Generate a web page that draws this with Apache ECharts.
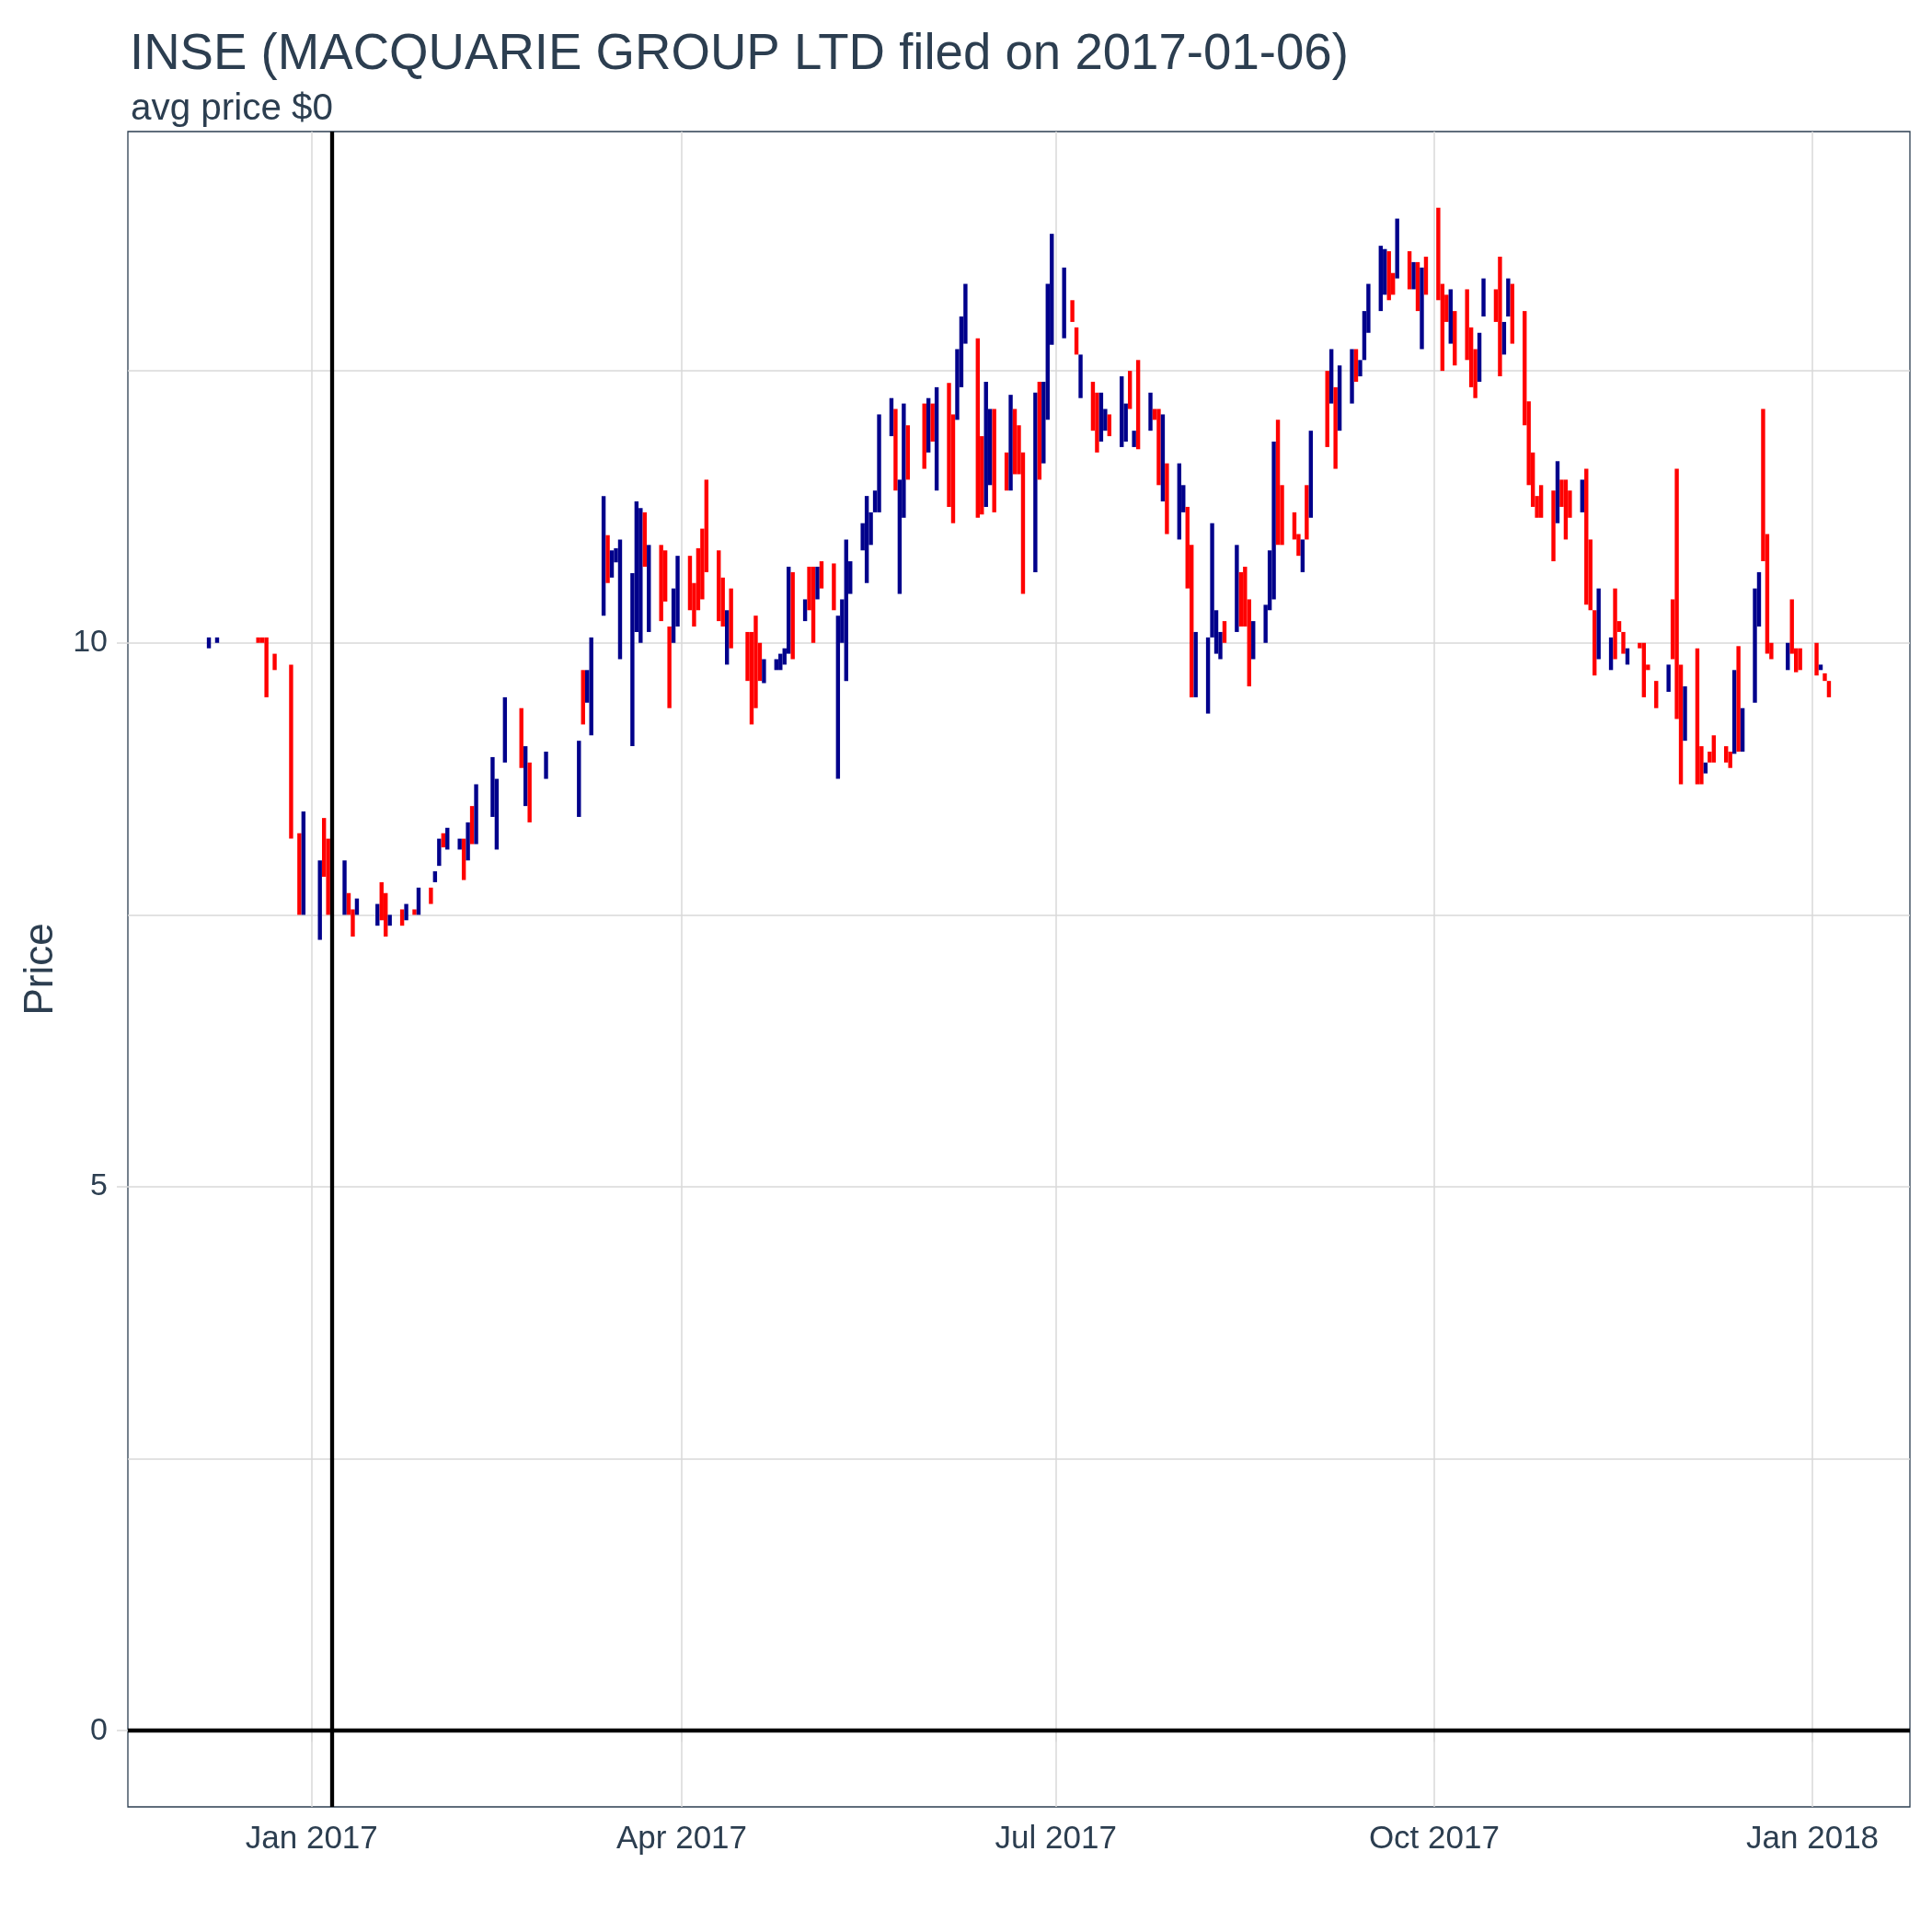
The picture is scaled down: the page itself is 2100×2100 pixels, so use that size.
<!DOCTYPE html>
<html>
<head>
<meta charset="utf-8">
<title>INSE price</title>
<script src="https://cdn.jsdelivr.net/npm/echarts@6/dist/echarts.min.js"></script>
<style>
  html, body { margin: 0; padding: 0; background: #fff; }
  #chart { width: 2100px; height: 2100px; }
</style>
</head>
<body>
<div id="chart"></div>
<script>
// daily bars: blue = close above open, red = close below open
const dates = [
  '2016-12-07', '2016-12-09', '2016-12-19', '2016-12-20', '2016-12-21', '2016-12-23', '2016-12-27', '2016-12-29', '2016-12-30',
  '2017-01-03', '2017-01-04', '2017-01-05', '2017-01-09', '2017-01-10', '2017-01-11', '2017-01-12', '2017-01-17', '2017-01-18',
  '2017-01-19', '2017-01-20', '2017-01-23', '2017-01-24', '2017-01-26', '2017-01-27', '2017-01-30', '2017-01-31',
  '2017-02-01', '2017-02-02', '2017-02-03', '2017-02-06', '2017-02-07', '2017-02-08', '2017-02-09', '2017-02-10', '2017-02-14',
  '2017-02-15', '2017-02-17', '2017-02-21', '2017-02-22', '2017-02-23', '2017-02-27',
  '2017-03-07', '2017-03-08', '2017-03-09', '2017-03-10', '2017-03-13', '2017-03-14', '2017-03-15', '2017-03-16', '2017-03-17',
  '2017-03-20', '2017-03-21', '2017-03-22', '2017-03-23', '2017-03-24', '2017-03-27', '2017-03-28', '2017-03-29', '2017-03-30', '2017-03-31',
  '2017-04-03', '2017-04-04', '2017-04-05', '2017-04-06', '2017-04-07', '2017-04-10', '2017-04-11', '2017-04-12', '2017-04-13',
  '2017-04-17', '2017-04-18', '2017-04-19', '2017-04-20', '2017-04-21', '2017-04-24', '2017-04-25', '2017-04-26', '2017-04-27', '2017-04-28',
  '2017-05-01', '2017-05-02', '2017-05-03', '2017-05-04', '2017-05-05', '2017-05-08', '2017-05-09', '2017-05-10', '2017-05-11', '2017-05-12',
  '2017-05-15', '2017-05-16', '2017-05-17', '2017-05-18', '2017-05-19', '2017-05-22', '2017-05-23', '2017-05-24', '2017-05-25', '2017-05-26',
  '2017-05-30', '2017-05-31',
  '2017-06-01', '2017-06-02', '2017-06-05', '2017-06-06', '2017-06-07', '2017-06-08', '2017-06-09', '2017-06-12', '2017-06-13', '2017-06-14',
  '2017-06-15', '2017-06-16', '2017-06-19', '2017-06-20', '2017-06-21', '2017-06-22', '2017-06-23', '2017-06-26', '2017-06-27', '2017-06-28',
  '2017-06-29', '2017-06-30',
  '2017-07-03', '2017-07-05', '2017-07-06', '2017-07-07', '2017-07-10', '2017-07-11', '2017-07-12', '2017-07-13', '2017-07-14', '2017-07-17',
  '2017-07-18', '2017-07-19', '2017-07-20', '2017-07-21', '2017-07-24', '2017-07-25', '2017-07-26', '2017-07-27', '2017-07-28', '2017-07-31',
  '2017-08-01', '2017-08-02', '2017-08-03', '2017-08-04', '2017-08-07', '2017-08-08', '2017-08-09', '2017-08-10', '2017-08-11', '2017-08-14',
  '2017-08-15', '2017-08-16', '2017-08-17', '2017-08-18', '2017-08-21', '2017-08-22', '2017-08-23', '2017-08-24', '2017-08-25', '2017-08-28',
  '2017-08-29', '2017-08-30', '2017-08-31',
  '2017-09-01', '2017-09-05', '2017-09-06', '2017-09-07', '2017-09-08', '2017-09-11', '2017-09-12', '2017-09-13', '2017-09-14', '2017-09-15',
  '2017-09-18', '2017-09-19', '2017-09-20', '2017-09-21', '2017-09-22', '2017-09-25', '2017-09-26', '2017-09-27', '2017-09-28', '2017-09-29',
  '2017-10-02', '2017-10-03', '2017-10-04', '2017-10-05', '2017-10-06', '2017-10-09', '2017-10-10', '2017-10-11', '2017-10-12', '2017-10-13',
  '2017-10-16', '2017-10-17', '2017-10-18', '2017-10-19', '2017-10-20', '2017-10-23', '2017-10-24', '2017-10-25', '2017-10-26', '2017-10-27',
  '2017-10-30', '2017-10-31',
  '2017-11-01', '2017-11-02', '2017-11-03', '2017-11-06', '2017-11-07', '2017-11-08', '2017-11-09', '2017-11-10', '2017-11-13', '2017-11-14',
  '2017-11-15', '2017-11-16', '2017-11-17', '2017-11-20', '2017-11-21', '2017-11-22', '2017-11-24', '2017-11-27', '2017-11-28', '2017-11-29',
  '2017-11-30',
  '2017-12-01', '2017-12-04', '2017-12-05', '2017-12-06', '2017-12-07', '2017-12-08', '2017-12-11', '2017-12-12', '2017-12-13', '2017-12-14',
  '2017-12-15', '2017-12-18', '2017-12-19', '2017-12-20', '2017-12-21', '2017-12-22', '2017-12-26', '2017-12-27', '2017-12-28', '2017-12-29',
  '2018-01-02', '2018-01-03', '2018-01-04', '2018-01-05'
];

const opens = [
  9.95, 10.0, 10.05, 10.05, 10.05, 9.9, 9.8, 8.25, 7.5,
  7.27, 8.39, 8.2, 7.5, 7.7, 7.55, 7.5, 7.4, 7.8,
  7.7, 7.4, 7.55, 7.45, 7.55, 7.5, 7.75, 7.8,
  7.95, 8.25, 8.1, 8.1, 8.2, 8.0, 8.5, 8.15, 8.4,
  8.1, 8.9, 9.4, 8.5, 8.9, 8.75,
  8.4, 9.75, 9.45, 9.15, 10.25, 10.99, 10.6, 10.74, 9.85,
  9.05, 10.1, 10.0, 11.2, 10.1, 10.9, 10.85, 10.15, 10.0, 10.15,
  10.8, 10.55, 10.87, 11.05, 11.5, 10.85, 10.6, 9.8, 10.5,
  10.1, 10.1, 10.25, 10.0, 9.63, 9.75, 9.75, 9.8, 9.9, 10.65,
  10.2, 10.7, 10.7, 10.4, 10.75, 10.73, 8.75, 10.0, 9.65, 10.45,
  10.85, 10.55, 10.9, 11.2, 11.2, 11.9, 12.15, 10.45, 11.15, 12.0,
  12.2, 11.75,
  12.2, 11.4, 12.39, 12.1, 12.05, 12.35, 12.75, 12.8, 11.9, 11.25,
  11.45, 12.15, 11.75, 11.4, 12.15, 12.0, 11.75, 10.65, 12.4, 11.65,
  12.05, 12.74,
  12.8, 13.15, 12.9, 12.25, 12.4, 12.3, 11.85, 11.95, 12.1, 11.8,
  11.85, 12.5, 11.8, 12.6, 11.95, 12.15, 12.15, 11.3, 11.65, 10.95,
  11.2, 11.25, 10.9, 9.5, 9.35, 10.05, 9.9, 9.85, 10.2, 10.1,
  10.65, 10.7, 10.4, 9.85, 10.0, 10.3, 10.4, 12.05, 11.45, 11.2,
  11.0, 10.65, 11.45,
  11.15, 12.5, 12.2, 12.35, 11.95, 12.2, 12.7, 12.45, 12.6, 12.85,
  13.05, 13.2, 13.6, 13.4, 13.35, 13.6, 13.25, 13.5, 12.7, 13.55,
  14.0, 13.3, 13.2, 12.75, 13.05, 13.25, 12.9, 12.7, 12.4, 13.0,
  13.25, 13.55, 12.65, 13.0, 13.3, 13.05, 12.22, 11.75, 11.35, 11.45,
  11.4, 11.1,
  11.5, 11.5, 11.4, 11.2, 11.6, 10.95, 10.3, 9.85, 9.75, 10.5,
  10.2, 10.1, 9.8, 10.0, 10.0, 9.8, 9.65, 9.55, 10.4, 11.6,
  9.8,
  9.1, 9.95, 9.05, 8.8, 9.0, 9.15, 9.05, 9.0, 8.98, 9.97,
  9.0, 9.45, 10.15, 12.15, 11.0, 10.0, 9.75, 10.4, 9.95, 9.95,
  10.0, 9.75, 9.72, 9.65
];

const closes = [
  10.05, 10.05, 10.0, 10.0, 9.5, 9.75, 8.2, 7.5, 8.45,
  8.0, 7.85, 7.5, 8.0, 7.5, 7.3, 7.65, 7.6, 7.45,
  7.3, 7.5, 7.4, 7.6, 7.5, 7.75, 7.6, 7.9,
  8.2, 8.12, 8.3, 8.2, 7.82, 8.35, 8.15, 8.7, 8.95,
  8.75, 9.5, 8.85, 9.05, 8.35, 9.0,
  9.1, 9.25, 9.75, 10.05, 11.35, 10.55, 10.85, 10.87, 10.95,
  10.64, 11.3, 11.24, 10.7, 10.9, 10.2, 10.38, 9.4, 10.5, 10.8,
  10.3, 10.15, 10.3, 10.4, 10.65, 10.2, 10.15, 10.3, 9.95,
  9.65, 9.25, 9.4, 9.65, 9.85, 9.85, 9.9, 9.95, 10.7, 9.85,
  10.4, 10.3, 10.0, 10.7, 10.5, 10.3, 10.25, 10.4, 10.95, 10.75,
  11.1, 11.35, 11.2, 11.4, 12.1, 12.25, 11.4, 11.5, 12.2, 11.5,
  11.6, 12.25,
  11.85, 12.35, 11.25, 11.1, 12.7, 13.0, 13.3, 11.15, 11.18, 12.4,
  12.15, 11.2, 11.4, 12.28, 11.55, 11.55, 10.45, 12.3, 11.5, 12.4,
  13.3, 13.76,
  13.45, 12.95, 12.65, 12.65, 11.95, 11.75, 12.3, 12.15, 11.9, 12.45,
  12.2, 12.15, 11.95, 11.78, 12.3, 12.05, 11.45, 12.1, 11.0, 11.65,
  11.45, 10.5, 9.5, 10.1, 10.05, 11.1, 10.3, 10.1, 10.0, 10.9,
  10.15, 10.15, 9.6, 10.2, 10.35, 10.85, 11.85, 10.9, 10.9, 10.95,
  10.8, 10.95, 10.95,
  11.95, 11.8, 12.7, 11.6, 12.55, 12.7, 12.4, 12.6, 13.05, 13.3,
  13.65, 13.62, 13.15, 13.2, 13.9, 13.25, 13.5, 13.05, 13.45, 13.2,
  13.15, 12.5, 12.95, 13.25, 12.55, 12.6, 12.35, 12.25, 12.85, 13.35,
  12.95, 12.45, 12.95, 13.35, 12.75, 12.0, 11.45, 11.25, 11.15, 11.15,
  10.75, 11.67,
  11.25, 10.95, 11.15, 11.5, 10.35, 10.3, 9.7, 10.5, 10.05, 9.85,
  10.1, 9.9, 9.95, 9.95, 9.5, 9.75, 9.4, 9.8, 9.85, 9.3,
  8.7,
  9.6, 8.7, 8.7, 8.9, 8.9, 8.9, 8.9, 8.85, 9.75, 9.0,
  9.4, 10.5, 10.65, 10.75, 9.9, 9.85, 10.0, 9.9, 9.73, 9.75,
  9.7, 9.8, 9.65, 9.5
];

const filingDate = '2017-01-06';
const xTickDates = ['2017-01-01', '2017-04-01', '2017-07-01', '2017-10-01', '2018-01-01'];
const yTickValues = [0, 5, 10];
const monthNames = ['Jan', 'Feb', 'Mar', 'Apr', 'May', 'Jun', 'Jul', 'Aug', 'Sep', 'Oct', 'Nov', 'Dec'];

const font = '"Liberation Sans", Arial, sans-serif';
const ink = '#2c3e50';
const gridGrey = '#d9d9d9';

const toTime = (s) => {
  const [y, m, d] = s.split('-').map(Number);
  return new Date(y, m - 1, d).getTime();
};

const bars = dates.map((d, i) => [toTime(d), opens[i], closes[i]]);
const xTicks = xTickDates.map(toTime);

// ggplot-style 5% padding on both axes
const t0 = toTime(dates[0]);
const t1 = toTime(dates[dates.length - 1]);
const tPad = (t1 - t0) * 0.05;
const yTop = Math.max(...opens, ...closes);
const yMin = 0 - yTop * 0.05;
const yMax = yTop * 1.05;

const chart = echarts.init(document.getElementById('chart'));

chart.setOption({
  animation: false,
  backgroundColor: '#fff',
  title: [
    {
      text: 'INSE (MACQUARIE GROUP LTD filed on 2017-01-06)',
      left: 136,
      top: 27,
      textStyle: { fontFamily: font, fontSize: 54.6, fontWeight: 'normal', color: ink }
    },
    {
      text: 'avg price $0',
      left: 137,
      top: 94,
      textStyle: { fontFamily: font, fontSize: 40.4, fontWeight: 'normal', color: ink }
    }
  ],
  grid: {
    left: 139,
    right: 24,
    top: 143,
    bottom: 136,
    show: true,
    borderColor: ink,
    borderWidth: 1.3,
    backgroundColor: 'transparent'
  },
  xAxis: {
    type: 'value',
    min: t0 - tPad,
    max: t1 + tPad,
    axisLine: { show: false },
    axisTick: {
      show: true,
      length: 12,
      customValues: xTicks,
      lineStyle: { color: gridGrey, width: 1.5 }
    },
    axisLabel: {
      customValues: xTicks,
      margin: 18,
      fontFamily: font,
      fontSize: 35,
      color: ink,
      formatter: (v) => {
        const d = new Date(v);
        return monthNames[d.getMonth()] + ' ' + d.getFullYear();
      }
    },
    splitLine: { show: true, lineStyle: { color: gridGrey, width: 1.5 } }
  },
  yAxis: {
    type: 'value',
    min: yMin,
    max: yMax,
    splitNumber: 3,
    name: 'Price',
    nameLocation: 'middle',
    nameGap: 72,
    nameTextStyle: { fontFamily: font, fontSize: 44, color: ink },
    axisLine: { show: false },
    axisTick: {
      show: true,
      length: 12,
      customValues: yTickValues,
      lineStyle: { color: gridGrey, width: 1.5 }
    },
    axisLabel: {
      customValues: yTickValues,
      margin: 22,
      fontFamily: font,
      fontSize: 34,
      color: ink
    },
    splitLine: { show: true, lineStyle: { color: gridGrey, width: 1.5 } },
    minorTick: { show: false, splitNumber: 2 },
    minorSplitLine: { show: true, lineStyle: { color: gridGrey, width: 1.5 } }
  },
  series: [
    {
      type: 'custom',
      encode: { x: 0, y: [1, 2] },
      data: bars,
      renderItem: (params, api) => {
        const t = api.value(0);
        const o = api.value(1);
        const c = api.value(2);
        const pOpen = api.coord([t, o]);
        const pClose = api.coord([t, c]);
        const w = 4.4;
        return {
          type: 'rect',
          shape: {
            x: pOpen[0] - w / 2,
            y: Math.min(pOpen[1], pClose[1]),
            width: w,
            height: Math.max(Math.abs(pOpen[1] - pClose[1]), 1)
          },
          style: { fill: c >= o ? '#00008b' : '#ff0000' }
        };
      }
    },
    {
      type: 'line',
      data: [],
      silent: true,
      markLine: {
        silent: true,
        symbol: ['none', 'none'],
        label: { show: false },
        lineStyle: { color: '#000', width: 4.3, type: 'solid' },
        data: [
          { xAxis: toTime(filingDate) },
          { yAxis: 0 }
        ]
      }
    }
  ]
});
</script>
</body>
</html>
